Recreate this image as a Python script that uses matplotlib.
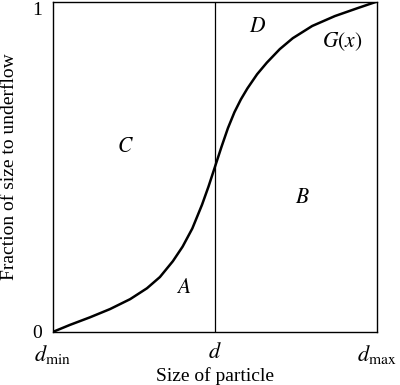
import matplotlib as mpl
import numpy as np
from matplotlib import pyplot as plt

# curve G(x) (x: d_min -> d_max mapped to 0..1)
size = [0.0, 0.052, 0.114, 0.176, 0.238, 0.290, 0.330, 0.370, 0.400, 0.430,
        0.460, 0.480, 0.500, 0.520, 0.540, 0.560, 0.580, 0.600, 0.630, 0.660,
        0.700, 0.740, 0.800, 0.870, 0.940, 1.0]
frac = [0.0, 0.021, 0.044, 0.069, 0.099, 0.132, 0.166, 0.214, 0.258, 0.313,
        0.385, 0.440, 0.500, 0.560, 0.617, 0.665, 0.704, 0.737, 0.780, 0.815,
        0.856, 0.889, 0.926, 0.956, 0.980, 1.0]
d_cut = 0.5
xtick_pos = [0.0, 0.5, 1.0]
xtick_labels = [r"$d_{\mathrm{min}}$", r"$d$", r"$d_{\mathrm{max}}$"]
ytick_pos = [0, 1]
ytick_labels = ["0", "1"]
regions = {"A": (0.404, 0.13), "B": (0.769, 0.405), "C": (0.225, 0.559),
           "D": (0.63, 0.921), r"G(x)": (0.892, 0.879)}

mpl.rcParams["font.family"] = "Liberation Serif"
mpl.rcParams["mathtext.fontset"] = "stix"
mpl.rcParams["font.size"] = 14

fig = plt.figure(figsize=(4.0, 3.85), dpi=100)
ax = fig.add_axes((0.1325, 0.138, 0.81, 0.858))

ax.plot(size, frac, color="k", lw=1.8, solid_capstyle="round",
        solid_joinstyle="round")
ax.axvline(d_cut, color="k", lw=0.9)

for name, (x, y) in regions.items():
    ax.text(x, y, f"${name}$", ha="center", va="center", fontsize=15.5)

ax.set_xlim(0, 1)
ax.set_ylim(0, 1)
ax.set_xticks(xtick_pos)
ax.set_xticklabels(xtick_labels, fontsize=16)
ax.set_yticks(ytick_pos)
ax.set_yticklabels(ytick_labels)
ax.tick_params(length=0, pad=8)
ax.tick_params(axis="y", pad=8)
ylabels = ax.get_yticklabels()
ylabels[1].set_va("top")
for s in ax.spines.values():
    s.set_linewidth(1.0)

ax.set_xlabel("Size of particle", labelpad=1)
ax.set_ylabel("Fraction of size to underflow", labelpad=10)

fig.savefig("out.png", dpi=100)
